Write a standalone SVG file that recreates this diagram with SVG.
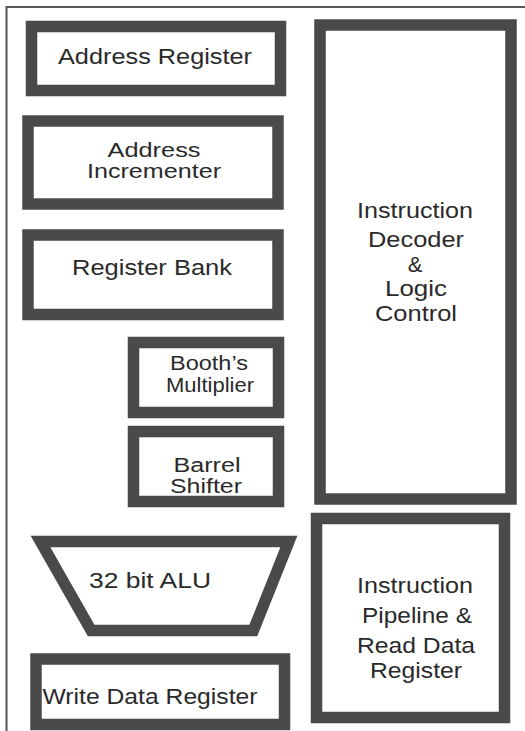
<svg xmlns="http://www.w3.org/2000/svg" width="525" height="731" viewBox="0 0 525 731">
<style>
.b{fill:#fff;stroke:#4a4a4a;stroke-width:11.5;stroke-linejoin:miter}
.t{font-family:"Liberation Sans",Arial,sans-serif;font-size:22px;fill:#2a2a2a;text-anchor:middle}
.s{font-size:19.5px}
.f{fill:none;stroke:#555;stroke-width:2}
</style>
<rect width="525" height="731" fill="#fff"/>
<g id="frame"><path class="f" d="M6.5,731 V7 H525"/></g>
<g id="connectors"></g>
<g id="address-register">
<rect class="b" x="31.5" y="26.5" width="249" height="64"/>
<text class="t" x="155" y="64" textLength="194" lengthAdjust="spacingAndGlyphs">Address Register</text>
</g>
<g id="address-incrementer">
<rect class="b" x="28" y="121" width="250" height="83"/>
<text class="t s" x="154" y="157" textLength="93" lengthAdjust="spacingAndGlyphs">Address</text>
<text class="t s" x="154" y="178" textLength="134" lengthAdjust="spacingAndGlyphs">Incrementer</text>
</g>
<g id="register-bank">
<rect class="b" x="28" y="235" width="250" height="79.5"/>
<text class="t" x="152" y="275" textLength="160" lengthAdjust="spacingAndGlyphs">Register Bank</text>
</g>
<g id="instruction-decoder">
<rect class="b" x="320" y="25" width="191" height="474"/>
<text class="t" x="415" y="218" textLength="116" lengthAdjust="spacingAndGlyphs">Instruction</text>
<text class="t" x="416" y="247" textLength="96" lengthAdjust="spacingAndGlyphs">Decoder</text>
<text class="t" x="415" y="272">&amp;</text>
<text class="t" x="416" y="296" textLength="62" lengthAdjust="spacingAndGlyphs">Logic</text>
<text class="t" x="416" y="321" textLength="82" lengthAdjust="spacingAndGlyphs">Control</text>
</g>
<g id="booths-multiplier">
<rect class="b" x="133.5" y="342.5" width="145" height="70"/>
<text class="t s" x="209" y="370" textLength="78" lengthAdjust="spacingAndGlyphs">Booth’s</text>
<text class="t s" x="210" y="392" textLength="88" lengthAdjust="spacingAndGlyphs">Multiplier</text>
</g>
<g id="barrel-shifter">
<rect class="b" x="133.5" y="431.5" width="145" height="70"/>
<text class="t s" x="207" y="472" textLength="67" lengthAdjust="spacingAndGlyphs">Barrel</text>
<text class="t s" x="206" y="493" textLength="72" lengthAdjust="spacingAndGlyphs">Shifter</text>
</g>
<g id="alu">
<polygon class="b" points="40.5,541.5 288.9,541.5 253.3,630.5 91.2,630.5"/>
<text class="t" x="150" y="588" textLength="122" lengthAdjust="spacingAndGlyphs">32 bit ALU</text>
</g>
<g id="write-data-register">
<rect class="b" x="36" y="659" width="248.5" height="65.5"/>
<text class="t" x="150" y="704" textLength="215" lengthAdjust="spacingAndGlyphs">Write Data Register</text>
</g>
<g id="instruction-pipeline">
<rect class="b" x="316.5" y="518.5" width="188" height="199"/>
<text class="t" x="415" y="593" textLength="116" lengthAdjust="spacingAndGlyphs">Instruction</text>
<text class="t" x="417" y="623" textLength="110" lengthAdjust="spacingAndGlyphs">Pipeline &amp;</text>
<text class="t" x="416" y="653" textLength="118" lengthAdjust="spacingAndGlyphs">Read Data</text>
<text class="t" x="416" y="678" textLength="92" lengthAdjust="spacingAndGlyphs">Register</text>
</g>
</svg>
